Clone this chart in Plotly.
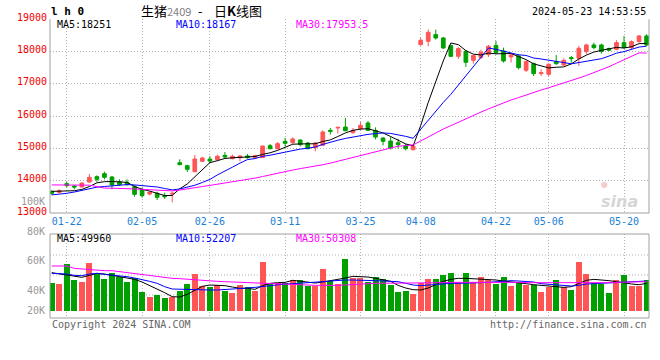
import plotly.graph_objects as go

# ---------------- data ----------------
dates = ["01-18", "01-19",
         "01-22", "01-23", "01-24", "01-25", "01-26",
         "01-29", "01-30", "01-31", "02-01", "02-02",
         "02-05", "02-06", "02-07", "02-08",
         "02-19", "02-20", "02-21", "02-22", "02-23",
         "02-26", "02-27", "02-28", "02-29", "03-01",
         "03-04", "03-05", "03-06", "03-07", "03-08",
         "03-11", "03-12", "03-13", "03-14", "03-15",
         "03-18", "03-19", "03-20", "03-21", "03-22",
         "03-25", "03-26", "03-27", "03-28", "03-29",
         "04-01", "04-02", "04-03",
         "04-08", "04-09", "04-10", "04-11", "04-12",
         "04-15", "04-16", "04-17", "04-18", "04-19",
         "04-22", "04-23", "04-24", "04-25", "04-26",
         "04-29", "04-30",
         "05-06", "05-07", "05-08", "05-09", "05-10",
         "05-13", "05-14", "05-15", "05-16", "05-17",
         "05-20", "05-21", "05-22", "05-23"]

opens = [13660, 13640, 13909, 13836, 13805, 13960, 14126, 14219, 14115, 13971,
         13950, 13816, 13733, 13589, 13609, 13537, 13589, 14559, 14466, 14281,
         14601, 14670, 14652, 14786, 14683, 14714, 14766, 14714, 14714, 15086,
         14993, 15220, 15179, 15261, 15168, 15024, 15096, 15561, 15633, 15664,
         15488, 15611, 15787, 15560, 15322, 15229, 15178, 15074, 14961, 18216,
         18319, 18526, 18422, 18185, 17854, 18009, 17730, 17813, 17906, 18190,
         18019, 17833, 17864, 17420, 17627, 17317, 17296, 17689, 17585, 17813,
         17792, 17999, 18205, 18205, 18092, 18071, 18277, 18122, 18308, 18484]

highs = [13710, 13730, 13971, 13867, 13940, 14208, 14167, 14281, 14146, 14043,
         14043, 13867, 13785, 13671, 13661, 13630, 13661, 14663, 14497, 14797,
         14745, 14760, 14807, 14890, 14807, 14786, 14828, 14807, 15085, 15137,
         15199, 15323, 15344, 15282, 15199, 15199, 15561, 15633, 15664, 15943,
         15633, 15818, 15849, 15653, 15353, 15353, 15302, 15147, 15116, 18422,
         18680, 18680, 18453, 18216, 18143, 18040, 17905, 18061, 18205, 18330,
         18122, 17937, 17916, 17730, 17658, 17451, 17637, 17895, 17792, 17864,
         18174, 18246, 18277, 18246, 18123, 18350, 18484, 18350, 18515, 18536]

lows = [13560, 13610, 13795, 13733, 13795, 13940, 13960, 14043, 13733, 13836,
        13847, 13506, 13475, 13547, 13403, 13434, 13330, 14477, 14270, 14260,
        14580, 14540, 14610, 14683, 14662, 14600, 14683, 14683, 14704, 14972,
        14972, 15055, 15148, 15065, 14972, 14910, 15096, 15427, 15457, 15530,
        15457, 15560, 15539, 15281, 15095, 14971, 14992, 14940, 14940, 18185,
        18164, 18370, 18081, 17833, 17771, 17523, 17627, 17771, 17833, 17920,
        17658, 17658, 17451, 17369, 17245, 17245, 17245, 17586, 17555, 17658,
        17555, 17916, 18071, 17937, 18019, 18040, 18102, 18071, 18277, 18174]

closes = [13610, 13690, 13847, 13805, 13929, 14105, 14043, 14105, 13867, 13878,
          13878, 13578, 13537, 13640, 13485, 13506, 13609, 14497, 14353, 14673,
          14704, 14610, 14755, 14735, 14755, 14766, 14714, 14776, 15075, 14993,
          15148, 15158, 15292, 15117, 14993, 15168, 15509, 15530, 15654, 15550,
          15561, 15715, 15560, 15353, 15219, 15012, 15116, 14992, 15074, 18350,
          18598, 18422, 18112, 17854, 18092, 17668, 17875, 17978, 18164, 17970,
          17709, 17895, 17503, 17689, 17317, 17348, 17606, 17627, 17730, 17782,
          18102, 18205, 18122, 17999, 18040, 18277, 18122, 18308, 18484, 18205]

ma5 = [13670, 13670, 13675, 13690, 13730, 13820, 13935, 13970, 13975, 13970,
       13950, 13820, 13735, 13680, 13600, 13540, 13545, 13750, 13900, 14110,
       14350, 14560, 14620, 14690, 14710, 14725, 14745, 14750, 14815, 14865,
       14940, 15030, 15130, 15140, 15140, 15145, 15215, 15265, 15370, 15480,
       15560, 15600, 15610, 15550, 15480, 15370, 15250, 15140, 15080, 15710,
       16425, 17085, 17710, 18265, 18215, 18030, 17920, 17895, 17955, 17930,
       17940, 17940, 17845, 17750, 17620, 17550, 17495, 17515, 17525, 17620,
       17770, 17890, 17985, 18040, 18095, 18130, 18110, 18150, 18245, 18251]

ma10 = [13560, 13580, 13610, 13650, 13700, 13740, 13800, 13820, 13845, 13870,
        13880, 13870, 13855, 13840, 13805, 13760, 13715, 13745, 13795, 13860,
        13945, 14040, 14180, 14290, 14420, 14545, 14655, 14685, 14755, 14790,
        14835, 14890, 14940, 14980, 15005, 15045, 15125, 15200, 15255, 15310,
        15355, 15410, 15435, 15460, 15480, 15465, 15425, 15375, 15315, 15595,
        15900, 16170, 16425, 16675, 16960, 17230, 17505, 17800, 18110, 18070,
        18010, 17960, 17900, 17880, 17800, 17770, 17740, 17700, 17660, 17620,
        17660, 17690, 17750, 17780, 17860, 17950, 18000, 18070, 18140, 18167]

ma30 = [13870, 13870, 13870, 13868, 13866, 13862, 13820, 13770, 13768, 13765,
        13762, 13745, 13732, 13725, 13700, 13690, 13685, 13710, 13740, 13780,
        13820, 13855, 13890, 13930, 13960, 13990, 14030, 14080, 14130, 14185,
        14235, 14285, 14330, 14375, 14410, 14445, 14495, 14545, 14605, 14660,
        14715, 14785, 14850, 14910, 14965, 15015, 15070, 15085, 15110, 15230,
        15360, 15490, 15600, 15705, 15815, 15910, 16015, 16125, 16225, 16325,
        16410, 16500, 16575, 16660, 16740, 16810, 16880, 16950, 17020, 17095,
        17180, 17260, 17345, 17435, 17530, 17640, 17740, 17850, 17960, 17953.5]

volume = [45270, 44370, 57840, 47060, 45720, 58740, 52000, 47740, 52000, 48860,
          45940, 48630, 39200, 35840, 36960, 35160, 35840, 39880, 44370, 51100,
          43020, 42570, 43700, 39880, 38530, 43700, 42120, 39880, 59410, 45270,
          45270, 45270, 47060, 47060, 43020, 43250, 54470, 46610, 44370, 61210,
          48190, 48190, 45940, 48860, 47510, 43700, 39200, 39880, 37630, 44820,
          47740, 47740, 50430, 52000, 45940, 52000, 45940, 49080, 47060, 44370,
          48860, 43020, 45940, 43700, 43700, 39200, 42120, 47060, 42120, 40330,
          59410, 51100, 44820, 44370, 38530, 47060, 50430, 43020, 43020, 47060]

vol_ma5 = [52000, 51100, 50430, 49760, 48860, 50210, 51550, 51100, 50430, 49310,
           48410, 47510, 45720, 43470, 41230, 38530, 35840, 35610, 37410, 40330,
           42800, 43700, 43700, 43250, 42350, 41450, 41450, 40780, 43250, 44820,
           45270, 45490, 46840, 46170, 45720, 45040, 45720, 46610, 47060, 48410,
           49530, 49530, 49080, 48190, 47060, 46170, 43470, 41680, 40550, 40330,
           41680, 43920, 46170, 47510, 48190, 48190, 47960, 47510, 47290, 47060,
           46390, 45940, 45270, 44590, 43920, 43470, 42570, 42120, 42120, 42570,
           44590, 46840, 47510, 47290, 46610, 45940, 45040, 44370, 43920, 44820]

vol_ma10 = [51550, 51330, 51100, 50210, 49980, 51100, 51550, 50880, 50430, 49760,
            49310, 48410, 47510, 46170, 44820, 42570, 41000, 40780, 40780, 40550,
            40330, 40330, 40330, 40550, 40780, 41450, 41680, 42120, 42800, 43250,
            43920, 44370, 44590, 44820, 45040, 45490, 45940, 46390, 46840, 47060,
            47060, 47060, 46840, 46610, 46390, 46170, 45940, 44820, 43700, 43250,
            43700, 44370, 44590, 44820, 44820, 44820, 45040, 45270, 45490, 45940,
            46170, 46610, 46390, 45940, 45720, 44590, 44140, 43470, 43020, 43020,
            43470, 44370, 44590, 44820, 45040, 45270, 45720, 45940, 46170, 46390]

vol_ma30 = [56490, 56490, 56490, 54920, 54470, 54470, 53800, 53350, 53350, 52680,
            52230, 51550, 51100, 50210, 49760, 48860, 48190, 47960, 47510, 47060,
            47060, 46610, 46170, 45940, 45720, 45270, 45040, 44820, 44590, 44370,
            44140, 44140, 44140, 43920, 43700, 43470, 43470, 43250, 43470, 43700,
            44140, 44370, 44590, 44820, 44820, 44820, 45040, 45040, 45270, 45270,
            45270, 45270, 45270, 45490, 45490, 45720, 45720, 45940, 45940, 45940,
            45940, 45720, 45490, 45270, 45270, 45270, 45040, 45040, 44820, 44820,
            44820, 45040, 45040, 45270, 45270, 45490, 45720, 45940, 45940, 45940]

x_tick_labels = ["01-22", "02-05", "02-26", "03-11", "03-25",
                 "04-08", "04-22", "05-06", "05-20"]
price_ticks = [13000, 14000, 15000, 16000, 17000, 18000, 19000]
vol_tick_values = [100000, 80000, 60000, 40000, 20000]
vol_tick_labels = ["100K", "80K", "60K", "40K", "20K"]

title_name = "生猪<span style='font-size:11px;color:#808080'>2409</span>"
title_dash = "-"
title_kind = "日<b>K</b>线图"
time_text = "2024-05-23 14:53:55"
price_ma_texts = ["MA5:18251", "MA10:18167", "MA30:17953.5"]
vol_ma_texts = ["MA5:49960", "MA10:52207", "MA30:50308"]

# ---------------- styling ----------------
W, H = 660, 360
RED = "#ff5555"
GREEN = "#00a000"
BORDER = "#a0a0a0"
GRID = "#b0b0b0"
MONO = "DejaVu Sans Mono"
CJK = "Noto Sans CJK SC"
MA_COLORS = ["#000000", "#0000ff", "#ff00ff"]


def px(x):
    return x / W


def py(y):
    return 1 - y / H


X_DOM = [px(50), px(649)]
PRICE_DOM = [py(213), py(19.3)]
VOL_DOM = [py(318), py(234)]
X_RANGE = [-0.23, 79.32]
VOL_RANGE = [21480, 78050]
VOL_BASE = 26400


def vol_to_paper(v):
    frac = (v - VOL_RANGE[0]) / (VOL_RANGE[1] - VOL_RANGE[0])
    return VOL_DOM[0] + frac * (VOL_DOM[1] - VOL_DOM[0])


bar_colors = [RED if c >= o else GREEN for o, c in zip(opens, closes)]

fig = go.Figure()

fig.add_trace(go.Candlestick(
    x=dates, open=opens, high=highs, low=lows, close=closes,
    increasing=dict(line=dict(color=RED, width=1), fillcolor=RED),
    decreasing=dict(line=dict(color=GREEN, width=1), fillcolor=GREEN),
    xaxis="x", yaxis="y", hoverinfo="skip", showlegend=False))

for series, col in zip([ma5, ma10, ma30], MA_COLORS):
    fig.add_trace(go.Scatter(x=dates, y=series, mode="lines",
                             line=dict(color=col, width=1),
                             xaxis="x", yaxis="y", hoverinfo="skip",
                             showlegend=False))

fig.add_trace(go.Bar(x=dates, y=[v - VOL_BASE for v in volume], base=VOL_BASE,
                     marker=dict(color=bar_colors, line=dict(width=0)),
                     width=0.8, xaxis="x2", yaxis="y2", hoverinfo="skip",
                     showlegend=False))

for series, col in zip([vol_ma5, vol_ma10, vol_ma30], MA_COLORS):
    fig.add_trace(go.Scatter(x=dates, y=series, mode="lines",
                             line=dict(color=col, width=1),
                             xaxis="x2", yaxis="y2", hoverinfo="skip",
                             showlegend=False))

axis_font = dict(family=MONO, size=10)

fig.update_layout(
    width=W, height=H, autosize=False,
    margin=dict(l=0, r=0, t=0, b=0, pad=0),
    paper_bgcolor="white", plot_bgcolor="white",
    showlegend=False, bargap=0, boxgap=0.3,
    xaxis=dict(domain=X_DOM, anchor="y", type="category", range=X_RANGE,
               automargin=False,
               tickmode="array", tickvals=x_tick_labels, ticktext=x_tick_labels,
               showgrid=True, gridcolor=GRID, griddash="1px,2px", gridwidth=1,
               ticks="", showline=False, zeroline=False,
               ticklabelstandoff=1,
               tickfont=dict(axis_font, color="#1a7fd6"),
               rangeslider=dict(visible=False), fixedrange=True),
    yaxis=dict(domain=PRICE_DOM, anchor="x", range=[13000, 19000],
               automargin=False,
               tickmode="array", tickvals=price_ticks,
               ticktext=[str(t) for t in price_ticks],
               showgrid=True, gridcolor=GRID, griddash="1px,2px", gridwidth=1,
               ticks="", showline=False, zeroline=False,
               ticklabelstandoff=2, ticklabelshift=-2,
               tickfont=dict(axis_font, color="#ee0000"), fixedrange=True),
    xaxis2=dict(domain=X_DOM, anchor="y2", type="category", range=X_RANGE,
                automargin=False,
                tickmode="array", tickvals=x_tick_labels,
                showticklabels=False, showgrid=True, gridcolor=GRID,
                griddash="1px,2px", gridwidth=1, ticks="", zeroline=False,
                showline=False, fixedrange=True),
    yaxis2=dict(domain=VOL_DOM, anchor="x2", range=VOL_RANGE,
                automargin=False,
                showticklabels=False, showgrid=False, zeroline=False,
                ticks="", showline=False, fixedrange=True),
)

shapes = []
# price panel borders (left, bottom, right); top is the dotted 19000 grid line
for x0, y0, x1, y1 in [(0, 0, 0, 1), (0, 0, 1, 0), (1, 0, 1, 1)]:
    shapes.append(dict(type="line", xref="x domain", yref="y domain",
                       x0=x0, y0=y0, x1=x1, y1=y1,
                       line=dict(color=BORDER, width=1)))
# volume panel frame
shapes.append(dict(type="rect", xref="x2 domain", yref="y2 domain",
                   x0=0, y0=0, x1=1, y1=1, line=dict(color=BORDER, width=1)))
# volume panel horizontal dotted grid
for gy in [255, 275, 295]:
    f = (318 - gy) / (318 - 234)
    shapes.append(dict(type="line", xref="x2 domain", yref="y2 domain",
                       x0=0, x1=1, y0=f, y1=f, layer="below",
                       line=dict(color=GRID, width=1, dash="1px,2px")))
fig.update_layout(shapes=shapes)

ann = []


def text(x, y, s, color="#000000", size=10, anchor="left", family=MONO,
         yval=None):
    ann.append(dict(x=px(x), y=py(y) if yval is None else yval,
                    xref="paper", yref="paper", text=s, showarrow=False,
                    xanchor=anchor, yanchor="middle",
                    font=dict(family=family, size=size, color=color)))


text(49, 11.5, "<b>l h 0</b>", size=11)
text(139, 10.5, title_name, size=13, family=CJK)
text(200, 10.5, title_dash, size=13, anchor="center", family=CJK)
text(212, 10.5, title_kind, size=13, family=CJK)
text(648, 12, time_text, size=10, anchor="right")
for s, x, col in zip(price_ma_texts, [55, 174, 294], MA_COLORS):
    text(x, 24.5, s, color=col)
for s, x, col in zip(vol_ma_texts, [55, 174, 294], MA_COLORS):
    text(x, 238.5, s, color=col)
# volume axis labels (the lowest one is clamped to the bar floor)
for v, lab in zip(vol_tick_values, vol_tick_labels):
    text(46.5, 0, lab, color="#999999", anchor="right",
         yval=vol_to_paper(max(v, VOL_BASE)))
text(50, 324.5, "Copyright 2024 SINA.COM", color="#666666")
text(649, 324.5, "http://finance.sina.com.cn", color="#666666", anchor="right")
# sina watermark
text(619, 201, "<b><i>sina</i></b>", color="#d6d6d6", size=16, anchor="center",
     family="DejaVu Sans")
text(604, 185, "●", color="#f6cccc", size=8, anchor="center", family="DejaVu Sans")
fig.update_layout(annotations=ann)

fig.write_html("out.html",
               config={"displayModeBar": False, "staticPlot": True},
               post_script="document.body.style.margin='0';"
                           "document.body.style.padding='0';")
